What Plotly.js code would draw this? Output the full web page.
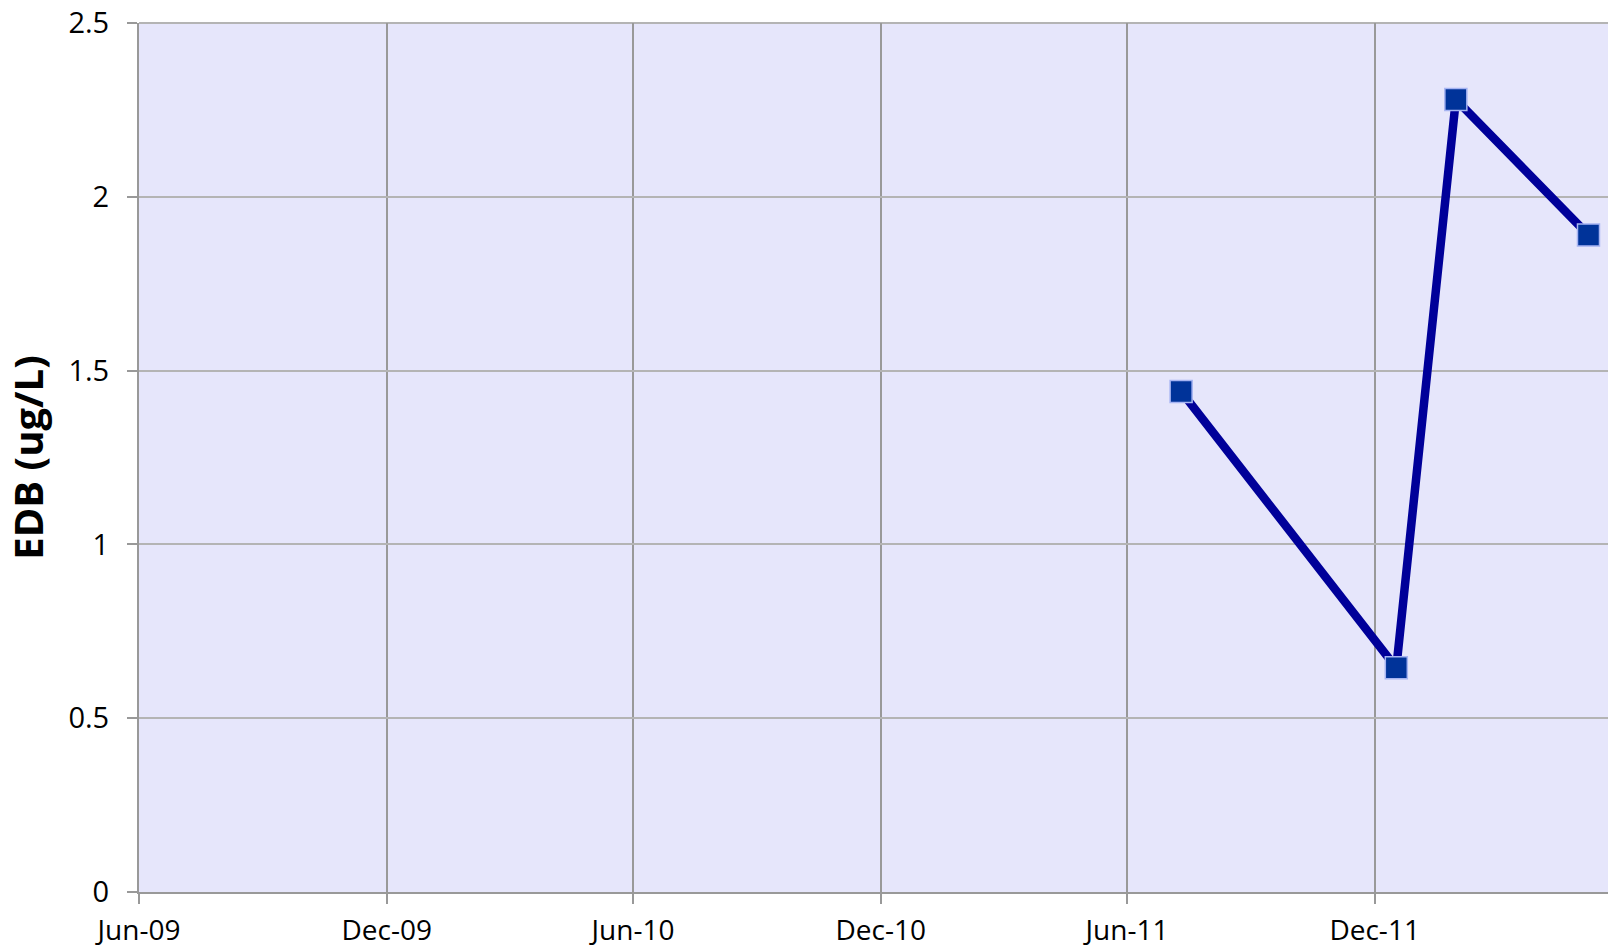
<!DOCTYPE html>
<html>
<head>
<meta charset="utf-8">
<script src="https://cdn.plot.ly/plotly-3.0.1.min.js"></script>
<style>html,body{margin:0;padding:0;background:#fff;}#chart{width:1608px;height:949px;}</style>
</head>
<body>
<div id="chart"></div>
<script>
const sampleDates = ["2011-07-11", "2011-12-17", "2012-01-30", "2012-05-07"];
const edbValues = [1.44, 0.645, 2.28, 1.89];
const yTitle = "EDB (ug/L)";
const xRange = ["2009-06-01", "2012-05-21 10:00"];
const yRange = [0, 2.5];

const trace = {
  x: sampleDates,
  y: edbValues,
  type: "scatter",
  mode: "lines+markers",
  line: {color: "#000099", width: 8.5},
  marker: {symbol: "square", size: 22, color: "#003399", line: {color: "#a6b4f2", width: 1.5}},
  cliponaxis: false,
  showlegend: false
};

const layout = {
  width: 1608,
  height: 949,
  margin: {l: 139, r: 0, t: 23, b: 57, pad: 0},
  paper_bgcolor: "#ffffff",
  plot_bgcolor: "#e6e6fb",
  font: {family: "Open Sans, sans-serif", size: 28, color: "#000000"},
  xaxis: {
    type: "date",
    range: xRange,
    tick0: "2009-06-01",
    dtick: "M6",
    tickformat: "%b-%y",
    ticks: "outside",
    ticklen: 10,
    tickwidth: 2,
    tickcolor: "#999999",
    showgrid: true,
    gridcolor: "#999999",
    gridwidth: 2,
    showline: true,
    linecolor: "#999999",
    linewidth: 2,
    zeroline: false,
    ticklabelstandoff: 2,
    tickfont: {family: "Open Sans, sans-serif", size: 28, color: "#000000"}
  },
  yaxis: {
    range: yRange,
    dtick: 0.5,
    tick0: 0,
    ticks: "outside",
    ticklen: 10,
    tickwidth: 2,
    tickcolor: "#999999",
    showgrid: true,
    gridcolor: "#b4b4b4",
    gridwidth: 2,
    showline: true,
    linecolor: "#999999",
    linewidth: 2,
    zeroline: false,
    ticklabelstandoff: 12,
    tickfont: {family: "Open Sans, sans-serif", size: 29, color: "#000000"},
    title: {text: yTitle, font: {family: "Open Sans, sans-serif", size: 40, color: "#000000", weight: "bold"}, standoff: 14}
  },
  shapes: [{type: "line", xref: "paper", yref: "paper", x0: 0, x1: 1, y0: 1, y1: 1, line: {color: "#b4b4b4", width: 2}, layer: "below"}]
};

Plotly.newPlot("chart", [trace], layout, {displayModeBar: false, staticPlot: true});
</script>
</body>
</html>
